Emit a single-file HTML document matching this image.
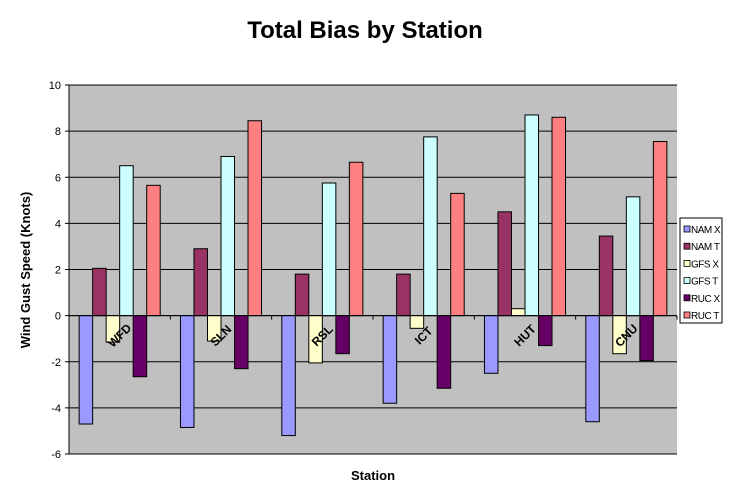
<!DOCTYPE html>
<html><head><meta charset="utf-8"><style>
body{margin:0;background:#fff;}
svg{display:block;font-family:"Liberation Sans",Arial,sans-serif;}
</style></head><body>
<svg id="chart" width="735" height="502" viewBox="0 0 735 502">
<text x="365" y="38" text-anchor="middle" font-size="24" font-weight="bold">Total Bias by Station</text>
<rect x="69" y="85" width="608" height="369" fill="#c0c0c0"/>
<g id="grid"></g>
<g id="bars"></g>
<g id="axes"></g>
<text transform="translate(30,270) rotate(-90)" text-anchor="middle" font-size="13" font-weight="bold">Wind Gust Speed (Knots)</text>
<text x="373" y="480" text-anchor="middle" font-size="13" font-weight="bold">Station</text>
<g id="legend"></g>
</svg>
<script>
const categories=["WFD","SLN","RSL","ICT","HUT","CNU"];
const seriesNames=["NAM X","NAM T","GFS X","GFS T","RUC X","RUC T"];
const namX=[-4.7,-4.85,-5.2,-3.8,-2.5,-4.6];
const namT=[2.05,2.9,1.8,1.8,4.5,3.45];
const gfsX=[-1.15,-1.1,-2.05,-0.55,0.3,-1.65];
const gfsT=[6.5,6.9,5.75,7.75,8.7,5.15];
const rucX=[-2.65,-2.3,-1.65,-3.15,-1.3,-1.95];
const rucT=[5.65,8.45,6.65,5.3,8.6,7.55];
const yTicks=[-6,-4,-2,0,2,4,6,8,10];
const colors=["#9999ff","#993366","#ffffcc","#ccffff","#660066","#ff8080"];
const series=[namX,namT,gfsX,gfsT,rucX,rucT];
const NS="http://www.w3.org/2000/svg";
const L=69,R=677,T=85,B=454,yMin=-6,yMax=10;
const y=v=>B-(v-yMin)/(yMax-yMin)*(B-T);
const gw=(R-L)/categories.length,bw=gw/7.5;
const x=(c,s)=>L+c*gw+bw*0.75+s*bw;
function mk(tag,attrs,parent){const e=document.createElementNS(NS,tag);for(const k in attrs)e.setAttribute(k,attrs[k]);parent.appendChild(e);return e;}
const grid=document.getElementById('grid'),bars=document.getElementById('bars'),axes=document.getElementById('axes'),legend=document.getElementById('legend');
yTicks.forEach(t=>{
  const g=mk('line',{x1:L,x2:R,y1:y(t),y2:y(t),stroke:'#000','stroke-width':1},grid);
  
  
  const tk=mk('line',{x1:L-4,x2:L,y1:y(t),y2:y(t),stroke:'#000'},axes);
  
  
  const lb=mk('text',{x:L-8,y:y(t)+4,'text-anchor':'end','font-size':11},axes);
  lb.textContent=t;
  
  
});
series.forEach((vals,s)=>{
  vals.forEach((v,c)=>{
    const r=mk('rect',{x:x(c,s),y:Math.min(y(v),y(0)),width:bw,height:Math.abs(y(v)-y(0)),fill:colors[s],stroke:'#000','stroke-width':1},bars);
    
    
  });
});
mk('line',{x1:L,x2:L,y1:T,y2:B,stroke:'#000'},axes);
mk('line',{x1:L,x2:R,y1:y(0),y2:y(0),stroke:'#000'},axes);
categories.forEach((c,i)=>{
  const tk=mk('line',{x1:L+(i+1)*gw,x2:L+(i+1)*gw,y1:y(0),y2:y(0)+4,stroke:'#000'},axes);
  
  
  const cx=L+(i+0.5)*gw, cy=y(0)+20;
  const lb=mk('text',{x:cx,y:cy+4,'text-anchor':'middle','font-size':12,'font-weight':'bold',transform:'rotate(-45 '+cx+' '+cy+')'},axes);
  lb.textContent=c;
  
  
});
const lg=mk('rect',{x:680,y:218,width:42,height:105,fill:'#fff',stroke:'#000'},legend);


seriesNames.forEach((n,i)=>{
  const yy=230+i*17.2;
  const sw=mk('rect',{x:684,y:yy-4,width:6,height:6,fill:colors[i],stroke:'#000','stroke-width':0.8},legend);
  
  
  const t=mk('text',{x:691,y:yy+3,'font-size':10,'letter-spacing':'-0.5'},legend);
  t.textContent=n;
  
  
});
</script>
</body></html>
